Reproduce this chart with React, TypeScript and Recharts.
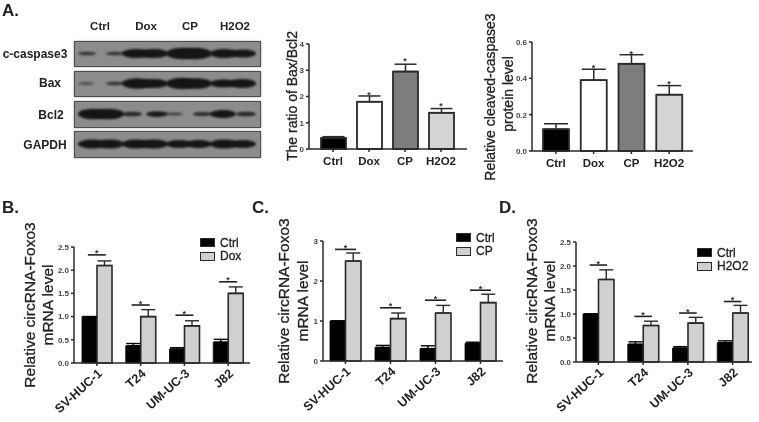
import { Bar, BarChart, ComposedChart, ErrorBar, Legend, Line, XAxis, YAxis } from 'recharts'

const W = 759
const H = 422
const INK = '#2a2a2a'
const SANS = '"Liberation Sans", Arial, sans-serif'

// western blot
const lanes = ['Ctrl', 'Dox', 'CP', 'H2O2']
const blotLabels = ['c-caspase3', 'Bax', 'Bcl2', 'GAPDH']
const blotLeftLobe = [
  [1.5, 4, 5, 4],
  [1, 4.5, 5, 3.5],
  [4.5, 2, 1.2, 3.5],
  [4, 4, 3.5, 4],
]
const blotRightLobe = [
  [1.5, 4, 5, 3.5],
  [1.5, 4, 4.5, 4],
  [4.5, 2.5, 1.8, 2],
  [4, 4, 3.5, 3.5],
]

// panel A bars
const ratioValues = [0.42, 1.8, 2.95, 1.38]
const ratioErrors = [0.05, 0.22, 0.28, 0.16]
const ratioStars = [null, 2.13, 3.43, 1.71]
const cleavedValues = [0.12, 0.39, 0.48, 0.31]
const cleavedErrors = [0.03, 0.06, 0.05, 0.05]
const cleavedStars = [null, 0.47, 0.546, 0.38]
const laneFills = ['#000', '#fff', '#7d7d7d', '#d4d4d4']

// panels B, C, D
const cellLines = ['SV-HUC-1', 'T24', 'UM-UC-3', 'J82']
const bCtrl = [1.0, 0.37, 0.3, 0.45]
const bCtrlErr = [0, 0.05, 0.03, 0.06]
const bDox = [2.1, 1.0, 0.8, 1.5]
const bDoxErr = [0.1, 0.15, 0.11, 0.14]
const bSig = [2.33, 1.25, 1.03, 1.75]
const cCtrl = [1.0, 0.34, 0.31, 0.44]
const cCtrlErr = [0, 0.05, 0.07, 0.03]
const cCp = [2.5, 1.06, 1.2, 1.46]
const cCpErr = [0.2, 0.14, 0.19, 0.21]
const cSig = [2.79, 1.33, 1.52, 1.77]
const dCtrl = [1.0, 0.37, 0.29, 0.4]
const dCtrlErr = [0, 0.05, 0.03, 0.04]
const dH2o2 = [1.72, 0.76, 0.81, 1.02]
const dH2o2Err = [0.2, 0.09, 0.12, 0.16]
const dSig = [2.02, 0.95, 1.02, 1.26]
const ticks25 = [0, 0.5, 1, 1.5, 2, 2.5]

const pageText = (x: number, y: number, s: string, size: number, anchor = 'start', weight = 700) => (
  <div
    key={s + x}
    style={{
      position: 'absolute', left: anchor === 'middle' ? x - 60 : x, top: y - size * 0.6,
      width: anchor === 'middle' ? 120 : undefined, textAlign: anchor === 'middle' ? 'center' : 'left',
      font: `${weight} ${size}px ${SANS}`, lineHeight: 1.2, color: '#222', whiteSpace: 'nowrap',
    }}
  >
    {s}
  </div>
)

const Lobe = (props: any) => {
  const { x, width, height, side } = props
  const rx = 6 + height * 2
  const laneMid = side === 'left' ? x + width : x
  const cx = side === 'left' ? laneMid - (23 - rx) : laneMid + (23 - rx)
  return (
    <ellipse
      cx={cx}
      cy={props.mid}
      rx={rx}
      ry={height * 1.15}
      fill="#151515"
      opacity={Math.min(1, 0.45 + height / 5)}
      style={{ filter: 'blur(1.3px)' }}
    />
  )
}

function BlotRow({ index, top, height }: { index: number; top: number; height: number }) {
  const rows = lanes.map((lane, i) => ({ lane, left: blotLeftLobe[index][i], right: blotRightLobe[index][i] }))
  const mid = height / 2
  return (
    <div style={{ position: 'absolute', left: 74, top, width: 187, height, background: '#8c8c8c', boxSizing: 'border-box', border: '1.5px solid #4d4d4d', boxShadow: '0 0 2px #999' }}>
      <BarChart
        width={184}
        height={height - 3}
        data={rows}
        margin={{ top: 0, right: 4, bottom: 0, left: 4 }}
        barCategoryGap={2}
        barGap={0}
        style={{ position: 'absolute', left: 0, top: 0 }}
      >
        <XAxis dataKey="lane" hide />
        <YAxis hide domain={[0, height - 3]} />
        <Bar dataKey="left" isAnimationActive={false} shape={(p: any) => <Lobe {...p} side="left" mid={mid - 1.5} />} />
        <Bar dataKey="right" isAnimationActive={false} shape={(p: any) => <Lobe {...p} side="right" mid={mid - 1.5} />} />
      </BarChart>
    </div>
  )
}

const Star = (x: number, y: number) => (
  <text x={x} y={y + 5} textAnchor="middle" fontSize={9} fontWeight={700} fill="#333" fontFamily={SANS}>*</text>
)

const starDot = (bracket: number) => (props: any) => {
  const { cx, cy, index } = props
  if (cy == null || Number.isNaN(cy)) return <g key={index} />
  return (
    <g key={index}>
      {bracket > 0 && <line x1={cx - bracket / 2} x2={cx + bracket / 2} y1={cy} y2={cy} stroke="#222" strokeWidth={1.6} />}
      {Star(cx, cy - (bracket > 0 ? 3.5 : 0))}
    </g>
  )
}

function AxisTitle({ lines, xs, y, size }: { lines: string[]; xs: number[]; y: number[]; size: number }) {
  return (
    <g>
      {lines.map((s, i) => (
        <text
          key={s}
          x={xs[i]}
          y={y[i]}
          transform={`rotate(-90 ${xs[i]} ${y[i]})`}
          textAnchor="middle"
          dominantBaseline="central"
          fontSize={size}
          fontFamily={SANS}
          fontWeight={400}
          stroke="#222"
          strokeWidth={0.3}
          fill="#222"
        >
          {s}
        </text>
      ))}
    </g>
  )
}

const axisProps = { stroke: INK, strokeWidth: 1.5 }
const yTick = { fontSize: 8, fontWeight: 700, fill: '#444', fontFamily: SANS }

function LanePanel(props: {
  values: number[]; errors: number[]; stars: (number | null)[]; domain: [number, number]; ticks: number[]; fmt: (v: number) => string
  left: number; right: number; top: number; base: number; pad: { left: number; right: number }; barSize: number; cap: number
  title: string[]; titleX: number[]; titleY: number[]
}) {
  const { values, errors, stars } = props
  const rows = lanes.map((lane, i) => ({ lane, v: values[i], err: [0, errors[i]], star: stars[i] }))
  return (
    <ComposedChart
      width={W}
      height={H}
      data={rows}
      margin={{ top: props.top, right: W - props.right, bottom: 0, left: 0 }}
      barSize={props.barSize}
      style={{ position: 'absolute', left: 0, top: 0 }}
    >
      <XAxis
        dataKey="lane"
        height={H - props.base}
        interval={0}
        padding={props.pad}
        axisLine={axisProps}
        tickLine={axisProps}
        tickSize={3}
        dy={3}
        tick={{ fontSize: 11.5, fontWeight: 700, fill: '#222', fontFamily: SANS }}
      />
      <YAxis
        width={props.left}
        domain={props.domain}
        ticks={props.ticks}
        tickFormatter={props.fmt}
        interval={0}
        axisLine={axisProps}
        tickLine={axisProps}
        tickSize={3}
        tick={yTick}
      />
      <Bar dataKey="v" isAnimationActive={false} stroke={INK} strokeWidth={1.8} shape={(p: any) => (
        <rect x={p.x} y={p.y} width={p.width} height={p.height} fill={laneFills[p.index]} stroke={INK} strokeWidth={1.8} />
      )}>
        <ErrorBar dataKey="err" width={props.cap} stroke={INK} strokeWidth={1.5} isAnimationActive={false} />
      </Bar>
      <Line dataKey="star" stroke="none" legendType="none" isAnimationActive={false} dot={starDot(0)} activeDot={false} />
      <AxisTitle lines={props.title} xs={props.titleX} y={props.titleY} size={14} />
    </ComposedChart>
  )
}

const fmt1 = (v: number) => v.toFixed(1)
const fmt0 = (v: number) => String(v)

function CellPanel(props: {
  ctrl: number[]; ctrlErr: number[]; treat: number[]; treatErr: number[]; sig: number[]; treatName: string
  domain: [number, number]; ticks: number[]; fmt: (v: number) => string
  left: number; right: number; top: number; base: number; pad: { left: number; right: number }; barSize: number; bracket: number
  legendLeft: number; legendTop: number; titleX: number[]; titleY: number[]
}) {
  const rows = cellLines.map((line, i) => ({
    line,
    ctrl: props.ctrl[i],
    ctrlErr: [0, props.ctrlErr[i]],
    treat: props.treat[i],
    treatErr: [0, props.treatErr[i]],
    sig: props.sig[i],
  }))
  const legendFills = ['#000', '#d0d0d0']
  return (
    <ComposedChart
      width={W}
      height={H}
      data={rows}
      margin={{ top: props.top, right: W - props.right, bottom: 0, left: 0 }}
      barSize={props.barSize}
      barGap={0}
      style={{ position: 'absolute', left: 0, top: 0 }}
    >
      <XAxis
        dataKey="line"
        height={H - props.base}
        interval={0}
        padding={props.pad}
        axisLine={axisProps}
        tickLine={axisProps}
        tickSize={3}
        angle={-42}
        textAnchor="end"
        tick={{ fontSize: 12.5, fontWeight: 700, fill: '#222', fontFamily: SANS }}
      />
      <YAxis
        width={props.left}
        domain={props.domain}
        ticks={props.ticks}
        tickFormatter={props.fmt}
        interval={0}
        axisLine={axisProps}
        tickLine={axisProps}
        tickSize={3}
        tick={yTick}
      />
      <Legend
        layout="vertical"
        align="center"
        verticalAlign="middle"
        itemSorter={null}
        wrapperStyle={{ position: 'absolute', left: props.legendLeft, top: props.legendTop, width: 70, height: 30 }}
        content={({ payload }: any) => (
          <div>
            {(payload || []).filter((e: any) => e.type !== 'none').map((e: any, i: number) => (
              <div key={e.value} style={{ display: 'flex', alignItems: 'center', height: 13.5, font: `400 12px ${SANS}`, color: '#222', WebkitTextStroke: '0.3px #222' }}>
                <span style={{ width: 15, height: 9, marginRight: 5, background: legendFills[i], border: `1.5px solid ${INK}`, boxSizing: 'border-box', display: 'inline-block' }} />
                {e.value}
              </div>
            ))}
          </div>
        )}
      />
      <Bar name="Ctrl" dataKey="ctrl" fill="#000" stroke="#000" strokeWidth={0.8} isAnimationActive={false}>
        <ErrorBar dataKey="ctrlErr" width={7} stroke="#000" strokeWidth={1.4} isAnimationActive={false} />
      </Bar>
      <Bar name={props.treatName} dataKey="treat" fill="#d0d0d0" stroke={INK} strokeWidth={1.6} isAnimationActive={false}>
        <ErrorBar dataKey="treatErr" width={7} stroke={INK} strokeWidth={1.4} isAnimationActive={false} />
      </Bar>
      <Line dataKey="sig" stroke="none" legendType="none" isAnimationActive={false} dot={starDot(props.bracket)} activeDot={false} />
      <AxisTitle lines={['Relative circRNA-Foxo3', 'mRNA level']} xs={props.titleX} y={props.titleY} size={15.5} />
    </ComposedChart>
  )
}

export default function App() {
  const rowTops = [41, 71, 101, 131]
  const rowHeights = [26, 26, 27, 27]
  const laneMids = [100, 146, 190, 235]
  const labelX = [35, 50, 51, 45]
  const labelY = [54, 83, 115, 145]
  return (
    <div style={{ position: 'absolute', left: 0, top: 0, width: W, height: H, overflow: 'hidden', background: '#fff', filter: 'blur(0.5px)' }}>
      {pageText(2, 11, 'A.', 17)}
      {pageText(2, 208, 'B.', 17)}
      {pageText(252, 208, 'C.', 17)}
      {pageText(499, 208, 'D.', 17)}
      {lanes.map((s, i) => pageText(laneMids[i], 27, s, 11.5, 'middle'))}
      {blotLabels.map((s, i) => pageText(labelX[i], labelY[i], s, 12, 'middle'))}
      {blotLabels.map((s, i) => (
        <BlotRow key={s} index={i} top={rowTops[i]} height={rowHeights[i]} />
      ))}
      <LanePanel
        values={ratioValues} errors={ratioErrors} stars={ratioStars} domain={[0, 4]} ticks={[0, 1, 2, 3, 4]} fmt={fmt0}
        left={309} right={467} top={44} base={149} pad={{ left: 6, right: 8 }} barSize={25} cap={11}
        title={['The ratio of Bax/Bcl2']} titleX={[292]} titleY={[96]}
      />
      <LanePanel
        values={cleavedValues} errors={cleavedErrors} stars={cleavedStars} domain={[0, 0.6]} ticks={[0, 0.2, 0.4, 0.6]} fmt={fmt1}
        left={532} right={693} top={42} base={151} pad={{ left: 5, right: 5 }} barSize={26} cap={12}
        title={['Relative cleaved-caspase3', 'protein level']} titleX={[490, 508]} titleY={[97, 94]}
      />
      <CellPanel
        ctrl={bCtrl} ctrlErr={bCtrlErr} treat={bDox} treatErr={bDoxErr} sig={bSig} treatName="Dox"
        domain={[0, 2.5]} ticks={ticks25} fmt={fmt1} left={74} right={250} top={247} base={363} pad={{ left: 1, right: 0 }} barSize={15} bracket={18}
        legendLeft={200} legendTop={236} titleX={[29, 47]} titleY={[305, 305]}
      />
      <CellPanel
        ctrl={cCtrl} ctrlErr={cCtrlErr} treat={cCp} treatErr={cCpErr} sig={cSig} treatName="CP"
        domain={[0, 3]} ticks={[0, 1, 2, 3]} fmt={fmt0} left={323} right={503} top={241} base={361} pad={{ left: 0, right: 0 }} barSize={15.5} bracket={21}
        legendLeft={456} legendTop={231} titleX={[283, 302]} titleY={[301, 301]}
      />
      <CellPanel
        ctrl={dCtrl} ctrlErr={dCtrlErr} treat={dH2o2} treatErr={dH2o2Err} sig={dSig} treatName="H2O2"
        domain={[0, 2.5]} ticks={ticks25} fmt={fmt1} left={576} right={752} top={242} base={362} pad={{ left: 0, right: -3 }} barSize={15.5} bracket={17.5}
        legendLeft={697} legendTop={246} titleX={[531, 549]} titleY={[301, 301]}
      />
    </div>
  )
}
